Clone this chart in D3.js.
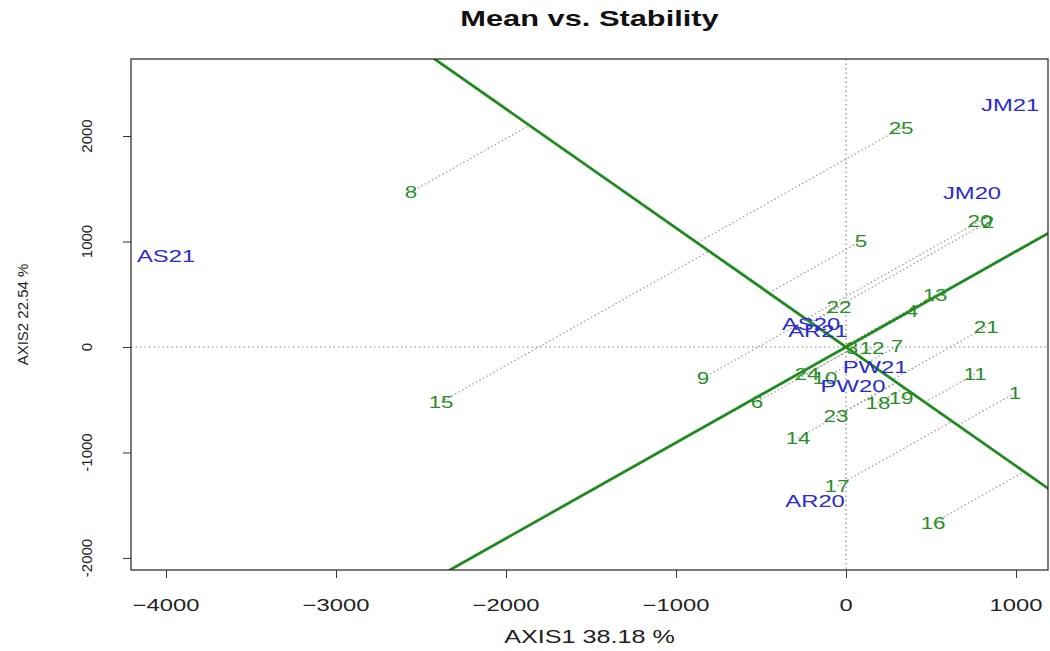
<!DOCTYPE html>
<html>
<head>
<meta charset="utf-8">
<script src="https://cdn.jsdelivr.net/npm/d3@7"></script>
<style>
  body { margin: 0; background: #fff; }
  text { font-family: "Liberation Sans", Arial, sans-serif; }
</style>
</head>
<body>
<svg id="chart" width="1050" height="651"></svg>
<script>
// ---------------- DATA ----------------
const genotypeNames = ["1", "2", "3", "4", "5", "6", "7", "8", "9", "10", "11", "12", "13",
  "14", "15", "16", "17", "18", "19", "20", "21", "22", "23", "24", "25"];
const genotypeX = [994, 835, 35, 388, 88, -524, 300, -2559, -841, -124, 759, 153, 524,
  -282, -2382, 512, -53, 188, 324, 788, 824, -41, -59, -229, 324];
const genotypeY = [-436, 1185, -9, 341, 1005, -521, 9, 1469, -294, -294, -256, -9, 493,
  -863, -521, -1668, -1318, -531, -483, 1194, 190, 379, -654, -256, 2076];

const envNames = ["JM21", "JM20", "AS21", "AS20", "AR21", "PW21", "PW20", "AR20"];
const envX = [965, 741, -4000, -206, -165, 171, 41, -182];
const envY = [2294, 1460, 863, 218, 152, -190, -370, -1460];

const xTicks = [-4000, -3000, -2000, -1000, 0, 1000];
const yTicks = [-2000, -1000, 0, 1000, 2000];

// slopes (data units) of the average-environment abscissa and its ordinate
const aecSlope = 0.907;
const ordSlope = -1.128;

const titleText = "Mean vs. Stability";
const xLabel = "AXIS1 38.18 %";
const yLabel = "AXIS2 22.54 %";

// ---------------- LAYOUT ----------------
const svg = d3.select("#chart");
const m = { left: 131, right: 1048, top: 59, bottom: 570 };
const stretch = 1.4; // text in the picture is wide

const x = d3.scaleLinear().domain([-4206, 1188]).range([m.left, m.right]);
const y = d3.scaleLinear().domain([-2114, 2730]).range([m.bottom, m.top]);

svg.append("defs").append("clipPath").attr("id", "clip")
  .append("rect")
  .attr("x", m.left).attr("y", m.top)
  .attr("width", m.right - m.left).attr("height", m.bottom - m.top);

const plot = svg.append("g").attr("clip-path", "url(#clip)");

// zero reference lines
plot.append("line")
  .attr("x1", m.left).attr("x2", m.right).attr("y1", y(0)).attr("y2", y(0))
  .attr("stroke", "#888").attr("stroke-width", 1.2).attr("stroke-dasharray", "1.5,3");
plot.append("line")
  .attr("x1", x(0)).attr("x2", x(0)).attr("y1", m.top).attr("y2", m.bottom)
  .attr("stroke", "#888").attr("stroke-width", 1.2).attr("stroke-dasharray", "1.5,3");

// projections of genotypes onto the ordinate, parallel to the abscissa
const genotypes = genotypeNames.map((n, i) => ({ name: n, x: genotypeX[i], y: genotypeY[i] }));
genotypes.forEach((g) => {
  const t = (g.y - g.x * aecSlope) / (ordSlope - aecSlope);
  plot.append("line")
    .attr("x1", x(g.x)).attr("y1", y(g.y))
    .attr("x2", x(t)).attr("y2", y(t * ordSlope))
    .attr("stroke", "#9a9a9a").attr("stroke-width", 1.2)
    .attr("stroke-dasharray", "1.5,2.5");
});

// abscissa and ordinate
[aecSlope, ordSlope].forEach((s) => {
  plot.append("line")
    .attr("x1", x(-10000)).attr("y1", y(-10000 * s))
    .attr("x2", x(10000)).attr("y2", y(10000 * s))
    .attr("stroke", "#1f8a1f").attr("stroke-width", 2.8);
});

// genotype labels
plot.selectAll("text.gen")
  .data(genotypes)
  .enter()
  .append("text")
  .attr("class", "gen")
  .attr("transform", (d) => `translate(${x(d.x)},${y(d.y)}) scale(${stretch},1)`)
  .attr("text-anchor", "middle")
  .attr("dominant-baseline", "central")
  .attr("font-size", 16)
  .attr("fill", "#2a8f2a")
  .text((d) => d.name);

// environment labels
const envs = envNames.map((n, i) => ({ name: n, x: envX[i], y: envY[i] }));
plot.selectAll("text.env")
  .data(envs)
  .enter()
  .append("text")
  .attr("class", "env")
  .attr("transform", (d) => `translate(${x(d.x)},${y(d.y)}) scale(${stretch},1)`)
  .attr("text-anchor", "middle")
  .attr("dominant-baseline", "central")
  .attr("font-size", 17)
  .attr("fill", "#2b2bd0")
  .text((d) => d.name);

// box
svg.append("rect")
  .attr("x", m.left).attr("y", m.top)
  .attr("width", m.right - m.left).attr("height", m.bottom - m.top)
  .attr("fill", "none").attr("stroke", "#333").attr("stroke-width", 1.3);

// ---------------- AXES ----------------
const xAxis = svg.append("g").attr("transform", `translate(0,${m.bottom})`)
  .call(d3.axisBottom(x).tickValues(xTicks).tickSize(8).tickFormat((d) => ""));
xAxis.select(".domain").remove();
xAxis.selectAll("line").attr("stroke", "#333");

svg.selectAll("text.xtick")
  .data(xTicks)
  .enter()
  .append("text")
  .attr("class", "xtick")
  .attr("transform", (d) => `translate(${x(d)},611) scale(${stretch},1)`)
  .attr("text-anchor", "middle")
  .attr("font-size", 17)
  .attr("fill", "#222")
  .text((d) => (d < 0 ? "\u2212" + Math.abs(d) : d));

const yAxis = svg.append("g").attr("transform", `translate(${m.left},0)`)
  .call(d3.axisLeft(y).tickValues(yTicks).tickSize(8).tickFormat((d) => ""));
yAxis.select(".domain").remove();
yAxis.selectAll("line").attr("stroke", "#333");

svg.selectAll("text.ytick")
  .data(yTicks)
  .enter()
  .append("text")
  .attr("class", "ytick")
  .attr("transform", (d) => `translate(86,${y(d)}) rotate(-90)`)
  .attr("text-anchor", "middle")
  .attr("dominant-baseline", "central")
  .attr("font-size", 15)
  .attr("fill", "#222")
  .text((d) => d);

// titles
svg.append("text")
  .attr("transform", `translate(${(m.left + m.right) / 2},26) scale(${stretch},1)`)
  .attr("text-anchor", "middle")
  .attr("font-size", 22)
  .attr("font-weight", "bold")
  .attr("fill", "#111")
  .text(titleText);

svg.append("text")
  .attr("transform", `translate(${(m.left + m.right) / 2},643) scale(${stretch},1)`)
  .attr("text-anchor", "middle")
  .attr("font-size", 18)
  .attr("fill", "#222")
  .text(xLabel);

svg.append("text")
  .attr("transform", `translate(22,${(m.top + m.bottom) / 2}) rotate(-90)`)
  .attr("text-anchor", "middle")
  .attr("dominant-baseline", "central")
  .attr("font-size", 15)
  .attr("fill", "#222")
  .text(yLabel);
</script>
</body>
</html>
